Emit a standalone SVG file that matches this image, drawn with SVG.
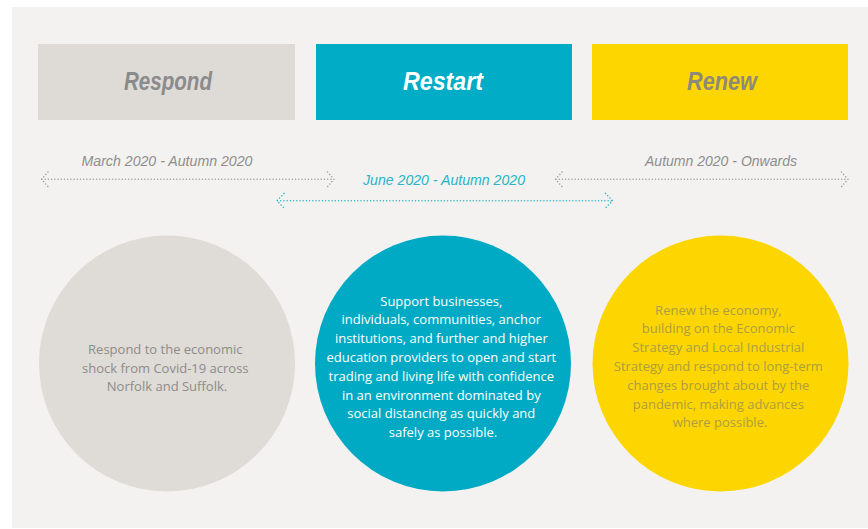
<svg xmlns="http://www.w3.org/2000/svg" width="868" height="529" viewBox="0 0 868 529">
  <style>
    .hdr { font-family: "Liberation Sans", Arial, sans-serif; font-weight: bold; font-style: italic; font-size: 25px; text-anchor: middle; }
    .date { font-family: "Liberation Sans", Arial, sans-serif; font-style: italic; font-size: 14.5px; text-anchor: middle; }
    .body { font-family: "Open Sans", "Liberation Sans", sans-serif; font-size: 13px; text-anchor: middle; }
    .dots { fill: none; stroke-width: 1.5; stroke-linecap: round; stroke-linejoin: round; stroke-dasharray: 0.01 3.2; }
    .grey { stroke: #9d9d9d; }
    .teal { stroke: #27b3c7; }
  </style>
  <rect x="0" y="0" width="868" height="529" fill="#ffffff"/>
  <rect x="12" y="7" width="856" height="521" fill="#f3f2f0"/>

  <g id="respond-header">
    <rect x="38" y="44" width="257" height="76" fill="#dedad6"/>
    <text class="hdr" x="168" y="90" fill="#8b8b8b" textLength="88" lengthAdjust="spacingAndGlyphs">Respond</text>
  </g>
  <g id="restart-header">
    <rect x="316" y="44" width="256" height="76" fill="#00acc6"/>
    <text class="hdr" x="443" y="90" fill="#ffffff" textLength="80" lengthAdjust="spacingAndGlyphs">Restart</text>
  </g>
  <g id="renew-header">
    <rect x="592" y="44" width="256" height="76" fill="#fdd600"/>
    <text class="hdr" x="722" y="90" fill="#8d8a78" textLength="70" lengthAdjust="spacingAndGlyphs">Renew</text>
  </g>

  <g id="date-labels">
    <text class="date" x="167" y="166" fill="#8e8e8e" textLength="171" lengthAdjust="spacingAndGlyphs">March 2020 - Autumn 2020</text>
    <text class="date" x="444" y="185" fill="#2bb3c6" textLength="162" lengthAdjust="spacingAndGlyphs">June 2020 - Autumn 2020</text>
    <text class="date" x="721" y="166" fill="#8e8e8e" textLength="152" lengthAdjust="spacingAndGlyphs">Autumn 2020 - Onwards</text>
  </g>

  <g id="connectors">
    <g id="span-respond" class="dots grey">
      <path d="M42 179.3 H333.5"/>
      <path d="M48 172 L41.5 179.3 L48 186.6"/>
      <path d="M327.5 172 L334 179.3 L327.5 186.6"/>
    </g>
    <g id="span-restart" class="dots teal">
      <path d="M277.5 200.7 H612"/>
      <path d="M284 193.4 L277 200.7 L284 208"/>
      <path d="M605.5 193.4 L612.5 200.7 L605.5 208"/>
    </g>
    <g id="span-renew" class="dots grey">
      <path d="M556 179.3 H847.5"/>
      <path d="M562 172 L555.5 179.3 L562 186.6"/>
      <path d="M841.5 172 L848 179.3 L841.5 186.6"/>
    </g>
  </g>

  <g id="respond-circle">
    <circle cx="167" cy="363.5" r="128" fill="#dfdbd7"/>
    <text class="body" fill="#8c8c8c">
      <tspan x="167" y="354">Respond to the economic</tspan>
      <tspan x="167" y="372.5">shock from Covid-19 across</tspan>
      <tspan x="167" y="391">Norfolk and Suffolk.</tspan>
    </text>
  </g>
  <g id="restart-circle">
    <circle cx="443" cy="363.5" r="128" fill="#00aac4"/>
    <text class="body" fill="#ffffff">
      <tspan x="443" y="305.5">Support businesses,</tspan>
      <tspan x="443" y="324.3">individuals, communities, anchor</tspan>
      <tspan x="443" y="343.1">institutions, and further and higher</tspan>
      <tspan x="443" y="361.9">education providers to open and start</tspan>
      <tspan x="443" y="380.7">trading and living life with confidence</tspan>
      <tspan x="443" y="399.5">in an environment dominated by</tspan>
      <tspan x="443" y="418.3">social distancing as quickly and</tspan>
      <tspan x="443" y="437.1">safely as possible.</tspan>
    </text>
  </g>
  <g id="renew-circle">
    <circle cx="720.5" cy="363.5" r="128" fill="#fdd500"/>
    <text class="body" fill="#ad9e45">
      <tspan x="720" y="314.5">Renew the economy,</tspan>
      <tspan x="720" y="333.3">building on the Economic</tspan>
      <tspan x="720" y="352.1">Strategy and Local Industrial</tspan>
      <tspan x="720" y="370.9">Strategy and respond to long-term</tspan>
      <tspan x="720" y="389.7">changes brought about by the</tspan>
      <tspan x="720" y="408.5">pandemic, making advances</tspan>
      <tspan x="720" y="427.3">where possible.</tspan>
    </text>
  </g>
</svg>
